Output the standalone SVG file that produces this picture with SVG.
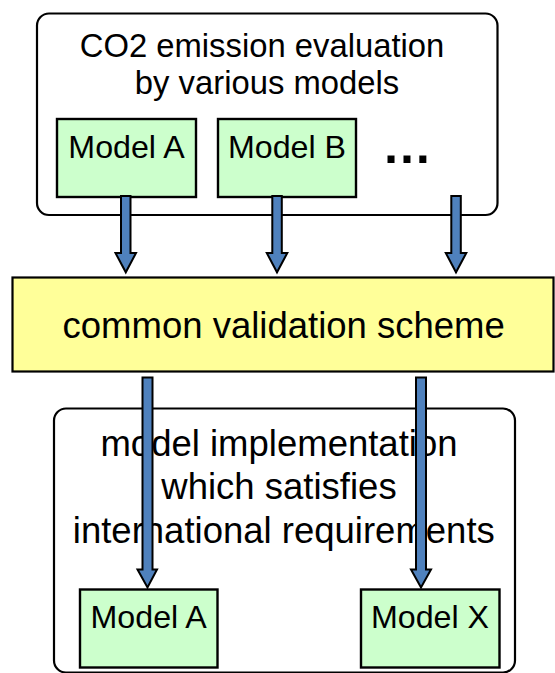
<svg xmlns="http://www.w3.org/2000/svg" width="555" height="673" viewBox="0 0 555 673">
<style>
  .container { fill: #FFFFFF; stroke: #000000; stroke-width: 2.2; }
  .model { fill: #CCFFCC; stroke: #000000; stroke-width: 2.4; }
  .scheme { fill: #FFFF99; stroke: #000000; stroke-width: 2.2; }
  .arrow { fill: #4F81BD; stroke: #000000; stroke-width: 2; stroke-linejoin: miter; }
  text { font-family: "Liberation Sans", Arial, sans-serif; fill: #000000; text-anchor: middle; }
  .t33 { font-size: 32.8px; }
  .t32 { font-size: 32.2px; }
  .t36 { font-size: 36.5px; }
</style>
<rect width="555" height="673" fill="#FFFFFF"/>

<g id="top-container">
  <rect class="container" x="37" y="13.5" width="460.5" height="201.5" rx="12" ry="12"/>
  <text class="t33" x="262" y="56.5">CO2 emission evaluation</text>
  <text class="t33" x="267" y="94">by various models</text>
</g>
<g id="top-model-a">
  <rect class="model" x="57" y="119" width="139" height="78"/>
  <text class="t32" x="126.5" y="157.5">Model A</text>
</g>
<g id="top-model-b">
  <rect class="model" x="218" y="119" width="138" height="78"/>
  <text class="t32" x="287" y="157.5">Model B</text>
</g>
<g id="top-more">
  <text x="407" y="163" style="font-size:50px;font-weight:bold;">…</text>
</g>

<g id="scheme">
  <rect class="scheme" x="12.5" y="277.5" width="541" height="94"/>
  <text class="t36" x="283.7" y="338.3">common validation scheme</text>
</g>

<g id="bottom-container">
  <rect class="container" x="54" y="408.5" width="461" height="264" rx="12" ry="12"/>
  <text class="t36" x="279" y="456">model implementation</text>
  <text class="t36" x="279" y="499.3">which satisfies</text>
  <text class="t36" x="283.8" y="543.3">international requirements</text>
</g>
<g id="bottom-model-a">
  <rect class="model" x="80" y="589.5" width="137.5" height="78"/>
  <text class="t32" x="148.7" y="628.3">Model A</text>
</g>
<g id="bottom-model-x">
  <rect class="model" x="361" y="589.5" width="138.5" height="78"/>
  <text class="t32" x="430" y="628.3">Model X</text>
</g>

<g id="connectors">
  <polygon class="arrow" points="121,196 130.5,196 130.5,253 136,253 125.8,272.3 115.5,253 121,253"/>
  <polygon class="arrow" points="272.3,196 281.8,196 281.8,253 287.3,253 277,272.3 266.8,253 272.3,253"/>
  <polygon class="arrow" points="451.3,196 460.8,196 460.8,253 466.3,253 456,272.3 445.8,253 451.3,253"/>
  <polygon class="arrow" points="142.5,377.5 152.5,377.5 152.5,569.5 157,569.5 147.5,587.5 137.5,569.5 142.5,569.5"/>
  <polygon class="arrow" points="416,377.5 426,377.5 426,569.5 431,569.5 421,587.5 411,569.5 416,569.5"/>
</g>
</svg>
